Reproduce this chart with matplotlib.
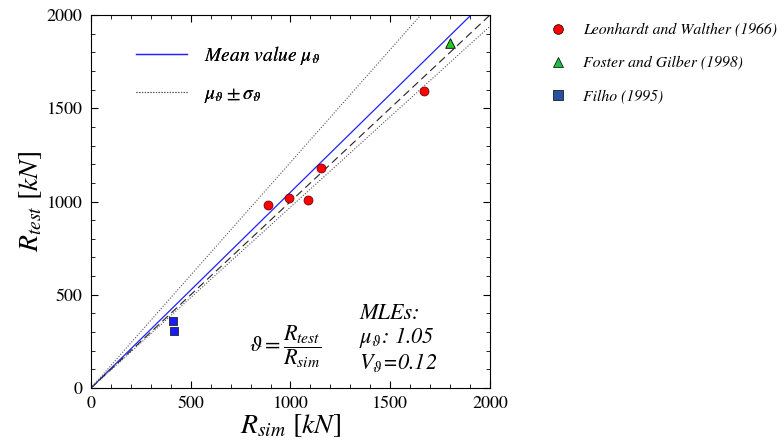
import numpy as np
import matplotlib
matplotlib.use("Agg")
import matplotlib.pyplot as plt
from matplotlib.lines import Line2D

plt.rcParams['font.family'] = ['STIXGeneral', 'DejaVu Serif']
plt.rcParams['mathtext.fontset'] = 'stix'

# test data  (R_sim, R_test) in kN
leon_sim = [886, 993, 1088, 1153, 1671]
leon_test = [981, 1020, 1010, 1181, 1592]
foster_sim = [1800]
foster_test = [1848]
filho_sim = [409, 418]
filho_test = [359, 304]

mean_slope = 1.05
band_slopes = [1.21, 0.97]

fig = plt.figure(figsize=(7.83, 4.48), dpi=100)
ax = fig.add_axes([0.1162, 0.1339, 0.5096, 0.8326])

xs = np.array([0, 2000])
l_mean, = ax.plot(xs, mean_slope * xs, color='#2020ff', lw=0.9)
ax.plot(xs, xs, color='#222222', lw=0.8, dashes=(7, 4))
for s in band_slopes:
    l_band, = ax.plot(xs, s * xs, color='#555555', lw=0.8, ls=(0, (1, 1.5)))

ax.scatter(leon_sim, leon_test, s=42, marker='o', color='red',
           edgecolor='#550000', linewidth=0.5, zorder=5)
ax.scatter(foster_sim, foster_test, s=48, marker='^', color='#22cc22',
           edgecolor='black', linewidth=0.6, zorder=5)
ax.scatter(filho_sim, filho_test, s=36, marker='s', color='#1a1aff',
           edgecolor='#222222', linewidth=0.6, zorder=5)

ax.set_xlim(0, 2000)
ax.set_ylim(0, 2000)
ax.set_xticks([0, 500, 1000, 1500, 2000])
ax.set_yticks([0, 500, 1000, 1500, 2000])
ax.set_xticks(np.arange(0, 2001, 100), minor=True)
ax.set_yticks(np.arange(0, 2001, 100), minor=True)
ax.tick_params(which='both', direction='in', top=True, right=True,
               labelsize=13, pad=6)
ax.tick_params(which='major', length=5)
ax.tick_params(which='minor', length=3)

ax.set_xlabel(r'$R_{sim}\ [kN]$', fontsize=20, labelpad=0)
ax.set_ylabel(r'$R_{test}\ [kN]$', fontsize=20, labelpad=2)

ax.text(790, 225, r'$\vartheta = \dfrac{R_{test}}{R_{sim}}$', fontsize=16,
        va='center', ha='left')
ax.text(1345, 455, 'MLEs:\n' + r'$\mu_\vartheta$: 1.05' + '\n' + r'$V_\vartheta$=0.12',
        fontsize=16, style='italic', va='top', ha='left', linespacing=1.05)

leg1 = ax.legend([l_mean, l_band],
                 [r'Mean value $\mu_\vartheta$', r'$\mu_\vartheta \pm \sigma_\vartheta$'],
                 loc='upper left', bbox_to_anchor=(0.07, 0.97), frameon=False,
                 prop={'size': 14, 'style': 'italic'}, handlelength=2.6,
                 handletextpad=0.9, labelspacing=0.9)
ax.add_artist(leg1)

h = [Line2D([], [], ls='', marker='o', ms=7, color='red', mec='black', mew=0.5),
     Line2D([], [], ls='', marker='^', ms=7, color='#22bb44', mec='black', mew=0.5),
     Line2D([], [], ls='', marker='s', ms=6.5, color='#2a50a0', mec='black', mew=0.5)]
fig.legend(h, ['Leonhardt and Walther (1966)', 'Foster and Gilber (1998)', 'Filho (1995)'],
           loc='upper left', bbox_to_anchor=(0.675, 0.98), frameon=False,
           prop={'size': 11.3, 'style': 'italic'}, handletextpad=0.6,
           labelspacing=1.22)

fig.savefig('out.png', dpi=100)
